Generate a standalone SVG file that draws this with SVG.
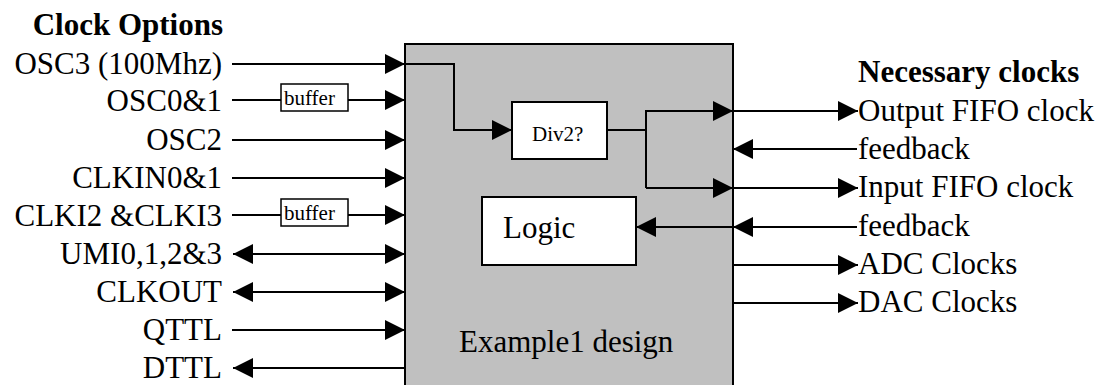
<svg xmlns="http://www.w3.org/2000/svg" width="1113" height="385" viewBox="0 0 1113 385">
  <style>
    text { font-family: "Liberation Serif", "Times New Roman", serif; fill: #000; }
    .lbl { font-size: 31px; }
    .hdr { font-size: 31px; font-weight: bold; }
    .sm { font-size: 21px; }
    .end { text-anchor: end; }
    .wire { fill: none; stroke: #000; stroke-width: 2; }
    .box { fill: #fff; stroke: #000; stroke-width: 2; }
  </style>
  <defs>
    <marker id="arrow" viewBox="0 0 20 20" refX="20" refY="10" markerWidth="20" markerHeight="20" markerUnits="userSpaceOnUse" orient="auto-start-reverse">
      <path d="M0,0 L20,10 L0,20 z" fill="#000"/>
    </marker>
  </defs>

  <rect width="1113" height="385" fill="#fff"/>

  <!-- main design block -->
  <g id="design">
    <rect x="405" y="44" width="328" height="350" fill="#c0c0c0" stroke="#000" stroke-width="2"/>
    <text class="lbl" x="459" y="352">Example1 design</text>
  </g>

  <g id="div2">
    <rect class="box" x="512" y="102" width="95" height="57"/>
    <text class="sm" x="532" y="141">Div2?</text>
  </g>

  <g id="logic">
    <rect class="box" x="482" y="197" width="154" height="68"/>
    <text class="lbl" x="503" y="238">Logic</text>
  </g>

  <g id="buffer1">
    <rect x="281" y="84" width="67" height="27" fill="#fff" stroke="#000" stroke-width="1.5"/>
    <text class="sm" x="284" y="105">buffer</text>
  </g>

  <g id="buffer2">
    <rect x="281" y="199" width="67" height="27" fill="#fff" stroke="#000" stroke-width="1.5"/>
    <text class="sm" x="284" y="220">buffer</text>
  </g>

  <!-- clock option labels -->
  <g id="clock-options">
    <text class="hdr end" x="223" y="35">Clock Options</text>
    <text class="lbl end" x="222" y="74">OSC3 (100Mhz)</text>
    <text class="lbl end" x="222" y="111">OSC0&amp;1</text>
    <text class="lbl end" x="222" y="150">OSC2</text>
    <text class="lbl end" x="222" y="188">CLKIN0&amp;1</text>
    <text class="lbl end" x="222" y="226">CLKI2 &amp;CLKI3</text>
    <text class="lbl end" x="222" y="264">UMI0,1,2&amp;3</text>
    <text class="lbl end" x="222" y="302">CLKOUT</text>
    <text class="lbl end" x="222" y="340">QTTL</text>
    <text class="lbl end" x="222" y="378">DTTL</text>
  </g>

  <!-- necessary clock labels -->
  <g id="necessary-clocks">
    <text class="hdr" x="858" y="82">Necessary clocks</text>
    <text class="lbl" x="858" y="121">Output FIFO clock</text>
    <text class="lbl" x="858" y="159">feedback</text>
    <text class="lbl" x="858" y="197">Input FIFO clock</text>
    <text class="lbl" x="858" y="236">feedback</text>
    <text class="lbl" x="858" y="274">ADC Clocks</text>
    <text class="lbl" x="858" y="312">DAC Clocks</text>
  </g>

  <g id="connectors">
    <!-- inputs on the left -->
    <path class="wire" d="M232,64 H405" marker-end="url(#arrow)"/>
    <path class="wire" d="M232,100 H281"/>
    <path class="wire" d="M348,100 H405" marker-end="url(#arrow)"/>
    <path class="wire" d="M232,140 H405" marker-end="url(#arrow)"/>
    <path class="wire" d="M232,178 H405" marker-end="url(#arrow)"/>
    <path class="wire" d="M232,215 H281"/>
    <path class="wire" d="M348,215 H405" marker-end="url(#arrow)"/>
    <path class="wire" d="M233,254 H405" marker-start="url(#arrow)" marker-end="url(#arrow)"/>
    <path class="wire" d="M233,292 H405" marker-start="url(#arrow)" marker-end="url(#arrow)"/>
    <path class="wire" d="M232,330 H405" marker-end="url(#arrow)"/>
    <path class="wire" d="M405,368 H233" marker-end="url(#arrow)"/>

    <!-- OSC3 routed into the divider -->
    <path class="wire" d="M405,64 H454 V130 H512" marker-end="url(#arrow)"/>

    <!-- divider output split to the two FIFO clocks -->
    <path class="wire" d="M607,130 H646"/>
    <path class="wire" d="M646,110 V188"/>
    <path class="wire" d="M646,111 H733" marker-end="url(#arrow)"/>
    <path class="wire" d="M646,188 H733" marker-end="url(#arrow)"/>

    <!-- outputs on the right -->
    <path class="wire" d="M733,111 H858" marker-end="url(#arrow)"/>
    <path class="wire" d="M857,149 H733" marker-end="url(#arrow)"/>
    <path class="wire" d="M733,188 H858" marker-end="url(#arrow)"/>
    <path class="wire" d="M857,227 H733" marker-end="url(#arrow)"/>
    <path class="wire" d="M733,227 H636" marker-end="url(#arrow)"/>
    <path class="wire" d="M733,265 H858" marker-end="url(#arrow)"/>
    <path class="wire" d="M733,303 H858" marker-end="url(#arrow)"/>
  </g>
</svg>
